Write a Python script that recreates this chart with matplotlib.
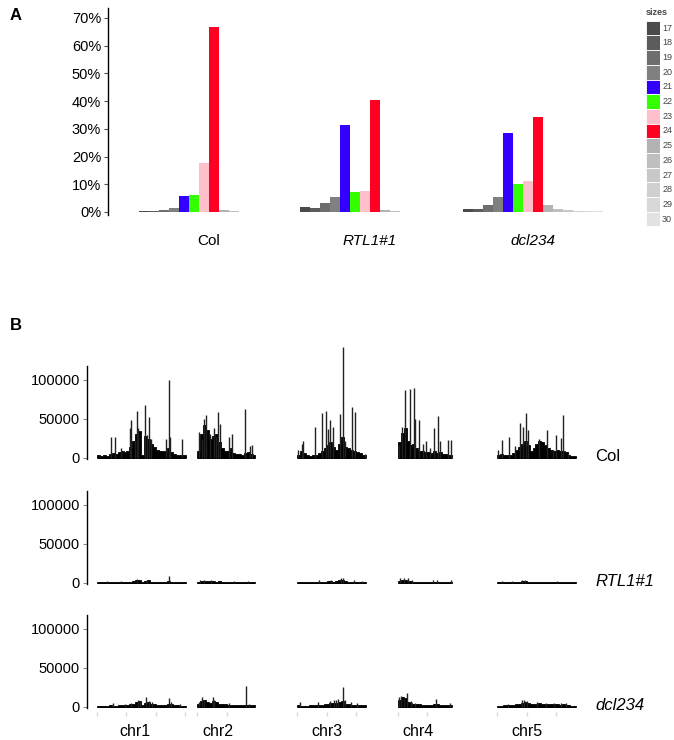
import numpy as np
import matplotlib
matplotlib.use('Agg')
import matplotlib.pyplot as plt

plt.rcParams['font.family'] = ['Liberation Sans', 'DejaVu Sans']

# ---------------- dados do painel A (% de leituras por tamanho) ----------------
sizes = [17, 18, 19, 20, 21, 22, 23, 24, 25, 26, 27, 28, 29, 30]
size_colors = ['#4a4a4a', '#5c5c5c', '#6e6e6e', '#808080', '#3300ff', '#33ff00', '#ffc0cb',
               '#ff0022', '#b3b3b3', '#bfbfbf', '#c8c8c8', '#d0d0d0', '#d8d8d8', '#e2e2e2']
samples = ['Col', 'RTL1#1', 'dcl234']
col_pct = [0.35, 0.35, 0.8, 1.3, 5.9, 6.0, 17.5, 66.6, 0.8, 0.2, 0.1, 0.05, 0.05, 0.05]
rtl_pct = [1.8, 1.3, 3.4, 5.3, 31.2, 7.3, 7.7, 40.4, 0.7, 0.2, 0.1, 0.05, 0.05, 0.05]
dcl_pct = [1.0, 1.2, 2.5, 5.3, 28.6, 10.2, 11.3, 34.2, 2.5, 1.1, 0.6, 0.5, 0.35, 0.2]

# ---------------- dados do painel B (leituras em milhares, bins de 1 Mb) ----------------
chroms = ['chr1', 'chr2', 'chr3', 'chr4', 'chr5']
chrom_len = [30.4, 19.7, 23.5, 18.6, 27.0]

col_chr1 = [4, 2, 3, 2, 5, 6, 5, 7, 8, 7, 9, 14, 22, 30, 34, 4, 28, 24, 18, 14, 10, 9, 9, 8, 12, 7, 5, 4, 3, 3, 3]
col_chr2 = [8, 30, 42, 35, 24, 28, 30, 20, 12, 8, 9, 12, 6, 5, 5, 4, 6, 7, 5, 4]
col_chr3 = [4, 9, 6, 3, 2, 3, 4, 6, 9, 12, 16, 20, 14, 10, 18, 26, 14, 12, 10, 9, 7, 6, 4, 3]
col_chr4 = [20, 32, 38, 22, 16, 18, 12, 9, 8, 7, 7, 6, 8, 6, 7, 5, 5, 4, 4]
col_chr5 = [4, 5, 3, 4, 3, 6, 10, 14, 18, 22, 16, 8, 12, 18, 22, 20, 16, 12, 10, 9, 10, 8, 9, 7, 4, 2, 2]
# picos finos: (posicao em Mb, altura em milhares)
col_chr1_peaks = [(4.7, 26), (6.0, 26), (8.3, 12), (11.1, 38), (11.7, 48), (12.8, 22), (13.5, 60),
                  (14.1, 38), (16.4, 67), (17.0, 29), (17.7, 52), (18.5, 24), (23.4, 24), (24.4, 99),
                  (24.8, 26), (28.9, 24)]
col_chr2_peaks = [(0.7, 33), (1.5, 24), (2.4, 50), (3.0, 55), (4.3, 30), (5.7, 38), (6.4, 26),
                  (7.0, 58), (7.7, 43), (10.8, 26), (11.7, 30), (16.4, 62), (17.9, 15), (18.7, 16)]
col_chr3_peaks = [(0.1, 10), (1.5, 18), (2.1, 21), (6.0, 39), (8.6, 57), (9.8, 60), (10.6, 37),
                  (11.2, 48), (12.3, 40), (14.6, 56), (15.5, 142), (16.3, 22), (18.6, 65), (19.9, 59),
                  (23.1, 5)]
col_chr4_peaks = [(0.3, 16), (1.5, 39), (2.6, 87), (4.2, 88), (5.4, 89), (5.9, 50), (7.4, 48),
                  (8.5, 18), (9.8, 22), (11.0, 12), (12.3, 38), (13.8, 54), (14.4, 22), (17.3, 23),
                  (18.2, 23)]
col_chr5_peaks = [(0.3, 10), (1.5, 23), (3.8, 26), (6.0, 15), (7.7, 45), (8.9, 40), (9.8, 57),
                  (10.3, 35), (14.3, 24), (17.0, 36), (18.9, 10), (20.2, 29), (21.7, 25), (22.6, 55),
                  (24.1, 6)]

rtl_chr1 = [1, 1, 1, 1.5, 1, 1, 1, 1.5, 1, 1, 1, 1.5, 2.5, 3, 3.5, 1, 2.5, 3, 1.5, 1, 1, 1, 1, 1.5, 2, 1, 1, 1, 1, 1, 1]
rtl_chr2 = [1.5, 2.5, 2.5, 2, 2.5, 2, 1.5, 2, 1.5, 1, 1, 1.5, 1, 1, 1, 1, 1, 1.5, 1, 1]
rtl_chr3 = [1, 1, 1, 1, 1, 1, 1, 1.5, 1, 1.5, 2.5, 2, 1.5, 2, 3, 3.5, 2, 1.5, 1.5, 1, 1, 1, 1, 1]
rtl_chr4 = [2, 3, 3, 2.5, 2, 1.5, 1.5, 1, 1, 1, 1.5, 1, 1, 1, 1.5, 1, 1, 1, 1]
rtl_chr5 = [1, 1, 1, 1, 1, 1, 1.5, 1.5, 2, 2, 1.5, 1, 1, 1, 1, 1, 1, 1, 1, 1, 1, 1, 1, 1, 1, 1, 1]
rtl_chr1_peaks = [(3.5, 2.5), (8.0, 2.5), (13.5, 4.5), (17.2, 4), (24.6, 9)]
rtl_chr2_peaks = [(0.8, 3), (2.2, 3.5), (4.5, 3), (12.5, 2.5), (17.2, 2.5)]
rtl_chr3_peaks = [(7.5, 3.5), (11.5, 4), (15.0, 5.5), (15.6, 6), (19.5, 3), (22.0, 2.5)]
rtl_chr4_peaks = [(0.8, 6), (2.2, 6.5), (3.4, 5.5), (5.0, 4), (12.0, 3.5), (13.4, 4), (18.2, 3.5)]
rtl_chr5_peaks = [(1.5, 2.5), (5.0, 2.5), (8.4, 3.5), (9.6, 3), (20.5, 2.5)]

dcl_chr1 = [1.5, 1, 1, 1.5, 2, 1.5, 1.5, 2, 2, 2, 2.5, 3, 4, 6, 7, 2, 5, 6, 4, 3, 2.5, 2.5, 2, 2.5, 4, 3, 2, 2, 1.5, 1.5, 1.5]
dcl_chr2 = [3, 7, 9, 6, 5, 7, 6, 4, 3, 3, 2.5, 2.5, 2, 2, 2, 2, 2, 2, 2, 2]
dcl_chr3 = [2, 1.5, 1.5, 1.5, 2, 2, 2, 2.5, 2.5, 3, 4, 5, 5, 5, 6, 7, 4, 3, 2.5, 2.5, 2, 2, 2, 2]
dcl_chr4 = [8, 12, 11, 6, 5, 4, 3, 3, 2.5, 2.5, 2.5, 2.5, 3, 4, 2.5, 2, 2, 2, 2]
dcl_chr5 = [1.5, 1.5, 2, 2, 2, 2.5, 3, 4, 5, 6, 5, 4, 3.5, 4, 4.5, 3.5, 3.5, 3, 3.5, 3, 3, 2.5, 3, 2.5, 2, 1.5, 1.5]
dcl_chr1_peaks = [(5.5, 4.5), (9.5, 4), (11.5, 5), (13.8, 8), (14.5, 7.5), (16.8, 13), (17.6, 7),
                  (18.6, 6.5), (24.6, 11.5), (25.2, 6), (28.5, 3)]
dcl_chr2_peaks = [(0.6, 6), (1.5, 12), (2.3, 9), (5.2, 13), (5.8, 8), (10.8, 5), (16.6, 27), (17.5, 3)]
dcl_chr3_peaks = [(1.0, 6.5), (7.0, 6.5), (11.3, 7.5), (12.4, 8), (13.2, 9), (14.0, 9.5), (15.5, 25),
                  (16.2, 8), (18.5, 6), (20.5, 4.5)]
dcl_chr4_peaks = [(0.5, 13), (1.2, 14), (2.0, 10), (3.3, 17), (4.5, 7), (6.0, 5), (13.1, 10), (17.8, 4.5)]
dcl_chr5_peaks = [(3.5, 3.5), (8.4, 8.5), (9.2, 8.5), (10.1, 7.5), (13.5, 6), (16.5, 5), (19.4, 5),
                  (21.8, 4.5), (23.4, 5)]

W, H = 674, 740


def caixa(left, top, width, height):
    # converte uma caixa em pixels (origem no topo) para fração da figura
    return [left / W, 1 - (top + height) / H, width / W, height / H]


fig = plt.figure(figsize=(W / 100, H / 100), dpi=100)

# ---------------- painel A ----------------
axA = fig.add_axes(caixa(108, 8, 520, 207))
group_start = [3.1, 19.2, 35.5]
for start, vals in zip(group_start, [col_pct, rtl_pct, dcl_pct]):
    x = start + np.arange(len(sizes))
    axA.bar(x, vals, width=1.0, align='edge', color=size_colors, linewidth=0)
axA.set_xlim(0, 52)
axA.set_ylim(-1.1, 73.6)
axA.set_yticks(range(0, 71, 10))
axA.set_yticklabels([f'{v}%' for v in range(0, 71, 10)], fontsize=10.5)
axA.tick_params(axis='y', length=3, width=0.8, color='#555555', pad=2)
axA.set_xticks([])
for s in ['top', 'right', 'bottom']:
    axA.spines[s].set_visible(False)
axA.spines['left'].set_linewidth(1.0)
for start, name in zip(group_start, samples):
    estilo = 'normal' if name == 'Col' else 'italic'
    axA.text(start + 7, -10.5, name, ha='center', va='center', fontsize=11, style=estilo, clip_on=False)

# legenda de tamanhos
axL = fig.add_axes(caixa(645.7, 20.7, 14.3, 14 * 14.7))
for i, (sz, c) in enumerate(zip(sizes, size_colors)):
    axL.barh(i, 1, height=1, left=0, color=c, edgecolor='white', linewidth=0.6)
    axL.text(1.15, i, str(sz), ha='left', va='center', fontsize=6.5, color='#444444')
axL.set_xlim(0, 1)
axL.set_ylim(13.5, -0.5)
axL.axis('off')
axL.text(0, -0.75, 'sizes', ha='left', va='bottom', fontsize=6.5, fontweight='bold', color='#444444')

fig.text(10 / W, 1 - 15 / H, 'A', fontsize=12, fontweight='bold', va='center', ha='left')
fig.text(10 / W, 1 - 325 / H, 'B', fontsize=12, fontweight='bold', va='center', ha='left')

# ---------------- painel B ----------------
chr_offset = [3.5, 37.8, 72.0, 106.4, 140.5]
chr_label_x = [16.4, 44.9, 82.2, 113.4, 150.7]

rows = [
    ('Col', [col_chr1, col_chr2, col_chr3, col_chr4, col_chr5],
     [col_chr1_peaks, col_chr2_peaks, col_chr3_peaks, col_chr4_peaks, col_chr5_peaks], 457.7),
    ('RTL1#1', [rtl_chr1, rtl_chr2, rtl_chr3, rtl_chr4, rtl_chr5],
     [rtl_chr1_peaks, rtl_chr2_peaks, rtl_chr3_peaks, rtl_chr4_peaks, rtl_chr5_peaks], 582.7),
    ('dcl234', [dcl_chr1, dcl_chr2, dcl_chr3, dcl_chr4, dcl_chr5],
     [dcl_chr1_peaks, dcl_chr2_peaks, dcl_chr3_peaks, dcl_chr4_peaks, dcl_chr5_peaks], 706.7),
]

px_per_k = 0.78
ymin, ymax = -1500, 118000
for r, (name, bgs, peaks, base) in enumerate(rows):
    h_px = (ymax - ymin) / 1000 * px_per_k
    top = base + (-ymin) / 1000 * px_per_k - h_px
    ax = fig.add_axes(caixa(87, top, 520, h_px))
    for off, L, bg, pk in zip(chr_offset, chrom_len, bgs, peaks):
        # bordas dos bins, a ultima cortada no fim do cromossomo
        bordas = np.minimum(np.arange(len(bg) + 1), L) + off
        ax.stairs(np.array(bg) * 1000, bordas, fill=True, facecolor='black',
                  edgecolor='black', linewidth=0.6)
        ax.hlines(0, off, off + L, color='black', lw=1.0)
        pos = [off + p for p, v in pk]
        alt = [v * 1000 for p, v in pk]
        ax.vlines(pos, 0, alt, color='#222222', lw=1.0, clip_on=False)
        if r == 2:
            marcas = [off + m for m in range(0, int(L) + 1, 10)]
            ax.plot(marcas, [-9000] * len(marcas), '|', color='#d8d8d8', ms=3, clip_on=False)
    ax.set_xlim(0, 178)
    ax.set_ylim(ymin, ymax)
    ax.set_yticks([0, 50000, 100000])
    ax.set_yticklabels(['0', '50000', '100000'], fontsize=10.5)
    ax.tick_params(axis='y', length=3, width=0.8, color='#888888', pad=2)
    ax.set_xticks([])
    for s in ['top', 'right', 'bottom']:
        ax.spines[s].set_visible(False)
    ax.spines['left'].set_linewidth(1.0)
    estilo = 'normal' if name == 'Col' else 'italic'
    ax.text(174, 2000, name, ha='left', va='center', fontsize=12, style=estilo, clip_on=False)
    if r == 2:
        for lx, c in zip(chr_label_x, chroms):
            ax.text(lx, -32000, c, ha='center', va='center', fontsize=11.5, clip_on=False)

fig.savefig('out.png', dpi=100)
